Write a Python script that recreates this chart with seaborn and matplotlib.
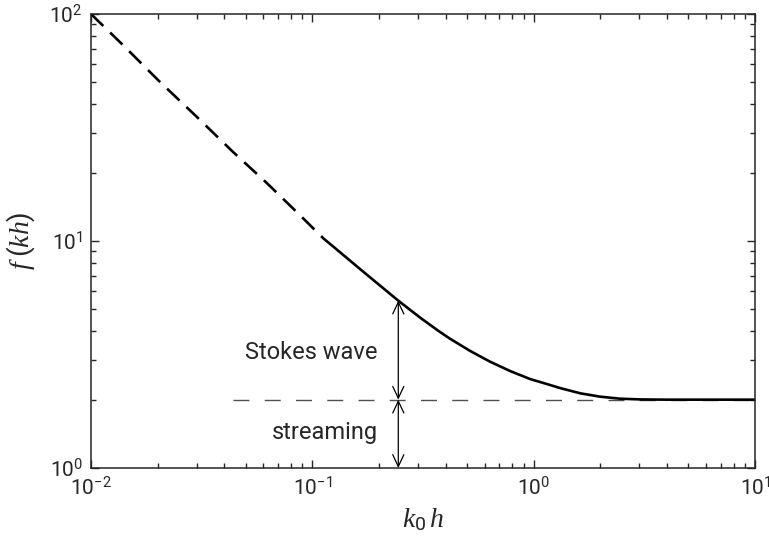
import numpy as np
import pandas as pd
import seaborn as sns
import matplotlib.pyplot as plt

# Values (log-log axes)
# shallow-water part, drawn dashed
kh_shallow = [0.01, 0.01395, 0.0205, 0.0301, 0.0438, 0.0623, 0.0879, 0.1121]
f_shallow = [100.0, 73.0, 50.2, 35.2, 24.7, 18.0, 13.0, 10.28]

# rest of the curve, drawn solid
kh_deep = [0.1121, 0.1380, 0.1700, 0.2093, 0.2446, 0.3067, 0.3710, 0.4191,
           0.5161, 0.6353, 0.7823, 0.9632, 1.186, 1.316, 1.621, 1.995,
           2.457, 3.026, 4.0, 10.0]
f_deep = [10.28, 8.68, 7.32, 6.19, 5.46, 4.60, 4.02, 3.71,
          3.28, 2.94, 2.675, 2.466, 2.321, 2.25, 2.134, 2.062,
          2.020, 2.005, 2.0, 2.0]

# streaming level and the annotation arrow
stream_kh = [0.044, 10.0]
stream_f = [2.0, 2.0]
arrow_kh = 0.2446
arrow_top = 5.46
arrow_mid = 2.0
arrow_bottom = 1.0

df_shallow = pd.DataFrame({'kh': kh_shallow, 'f': f_shallow})
df_deep = pd.DataFrame({'kh': kh_deep, 'f': f_deep})
df_stream = pd.DataFrame({'kh': stream_kh, 'f': stream_f})

sns.set_style('ticks')
plt.rcParams['font.family'] = ['Roboto', 'DejaVu Sans']
plt.rcParams['mathtext.fontset'] = 'custom'
plt.rcParams['mathtext.rm'] = 'Roboto'
plt.rcParams['mathtext.it'] = 'Liberation Serif:italic'
plt.rcParams['xtick.direction'] = 'in'
plt.rcParams['ytick.direction'] = 'in'

fig = plt.figure(figsize=(7.69, 5.50), dpi=100)
ax = fig.add_axes([0.1183, 0.1491, 0.8635, 0.8254])

# dashed streaming level
sns.lineplot(data=df_stream, x='kh', y='f', ax=ax, color='#505050',
             linewidth=1.0, estimator=None)
ax.lines[-1].set_dashes([11.5, 11])

# curve: dashed in shallow water, solid after
sns.lineplot(data=df_shallow, x='kh', y='f', ax=ax, color='black',
             linewidth=1.9, estimator=None)
ax.lines[-1].set_dashes([6.5, 3.6])
sns.lineplot(data=df_deep, x='kh', y='f', ax=ax, color='black',
             linewidth=1.9, estimator=None)

ax.set_xscale('log')
ax.set_yscale('log')
ax.set_xlim(1e-2, 1e1)
ax.set_ylim(1e0, 1e2)

# double arrows
arrow_props = dict(arrowstyle='<->,head_length=0.85,head_width=0.4',
                   color='black', lw=0.9, shrinkA=0, shrinkB=0)
ax.annotate('', xy=(arrow_kh, arrow_top), xytext=(arrow_kh, arrow_mid),
            arrowprops=arrow_props)
ax.annotate('', xy=(arrow_kh, arrow_mid), xytext=(arrow_kh, arrow_bottom),
            arrowprops=arrow_props)

ax.text(0.198, 3.24, 'Stokes wave', ha='right', va='center', fontsize=17)
ax.text(0.198, 1.43, 'streaming', ha='right', va='center', fontsize=17)

ax.set_xlabel(r'$\mathit{k_0\,h}$', fontsize=20, labelpad=5)
ax.set_ylabel(r'$\mathit{f\;(kh)}$', fontsize=20, labelpad=9)

ax.tick_params(which='both', top=True, right=True, labelsize=15, width=1.0)
ax.tick_params(which='major', length=6, pad=6)
ax.tick_params(which='minor', length=3.5)
for s in ax.spines.values():
    s.set_linewidth(1.1)

fig.savefig('out.png', dpi=100)
